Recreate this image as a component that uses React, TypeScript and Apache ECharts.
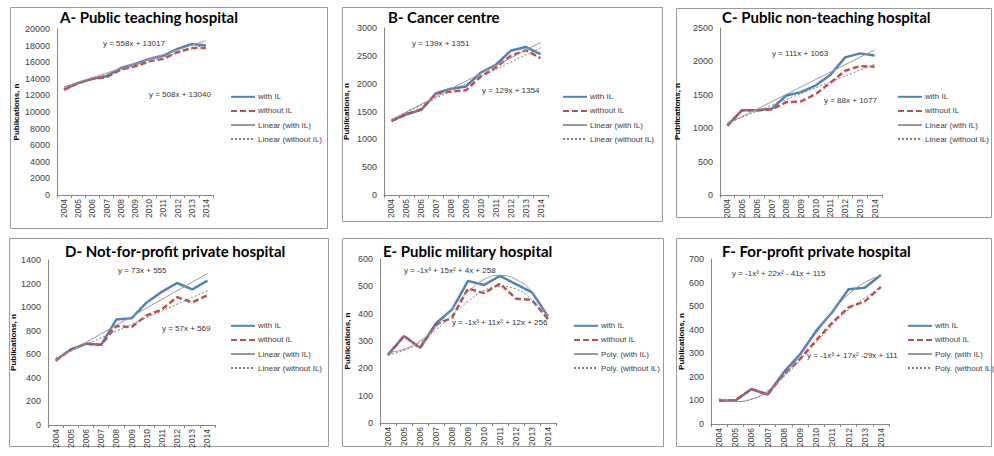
import React, { useEffect, useRef } from "react";
import * as echarts from "echarts";

const years = ["2004", "2005", "2006", "2007", "2008", "2009", "2010", "2011", "2012", "2013", "2014"];

// A - Public teaching hospital
const aWithIL = [12700, 13500, 14000, 14300, 15300, 15800, 16400, 16800, 17600, 18200, 18000];
const aWithoutIL = [12700, 13500, 14000, 14200, 15100, 15500, 16100, 16400, 17200, 17700, 17700];
const aTrendWith = [13017, 18597];
const aTrendWithout = [13040, 18120];

// B - Cancer centre
const bWithIL = [1330, 1450, 1530, 1830, 1910, 1950, 2200, 2340, 2590, 2660, 2530];
const bWithoutIL = [1330, 1450, 1540, 1820, 1860, 1880, 2130, 2290, 2500, 2600, 2460];
const bTrendWith = [1351, 2741];
const bTrendWithout = [1354, 2644];

// C - Public non-teaching hospital
const cWithIL = [1040, 1270, 1270, 1290, 1490, 1540, 1640, 1800, 2060, 2120, 2090];
const cWithoutIL = [1040, 1270, 1270, 1280, 1390, 1400, 1510, 1680, 1860, 1930, 1920];
const cTrendWith = [1063, 2173];
const cTrendWithout = [1077, 1957];

// D - Not-for-profit private hospital
const dWithIL = [550, 640, 690, 680, 895, 905, 1040, 1130, 1205, 1150, 1225];
const dWithoutIL = [545, 640, 690, 680, 840, 830, 930, 980, 1085, 1040, 1100];
const dTrendWith = [555, 1285];
const dTrendWithout = [569, 1139];

// E - Public military hospital
const eWithIL = [250, 318, 275, 365, 415, 520, 505, 538, 508, 478, 390];
const eWithoutIL = [248, 318, 275, 360, 385, 492, 475, 510, 455, 450, 380];
const ePolyWith = [258, 270, 300, 350, 420, 480, 525, 540, 525, 480, 390];
const ePolyWithout = [250, 265, 295, 340, 395, 445, 485, 500, 490, 450, 378];

// F - For-profit private hospital
const fWithIL = [100, 100, 148, 125, 220, 295, 395, 475, 572, 578, 632];
const fWithoutIL = [100, 100, 148, 125, 210, 275, 355, 430, 495, 520, 582];
const fPolyWith = [108, 95, 105, 140, 205, 290, 385, 475, 550, 600, 630];
const fPolyWithout = [105, 95, 105, 140, 200, 270, 345, 420, 485, 535, 580];

const panelTitles = [
  "A- Public teaching hospital",
  "B- Cancer centre",
  "C- Public non-teaching hospital",
  "D- Not-for-profit private hospital",
  "E- Public military hospital",
  "F- For-profit private hospital",
];
const eqWith = [
  "y = 558x + 13017",
  "y = 139x + 1351",
  "y = 111x + 1063",
  "y = 73x + 555",
  "y = -1x³ + 15x² + 4x + 258",
  "y = -1x³ + 22x² - 41x + 115",
];
const eqWithout = [
  "y = 508x + 13040",
  "y = 129x + 1354",
  "y = 88x + 1077",
  "y = 57x + 569",
  "y = -1x³ + 11x² + 12x + 256",
  "y = -1x³ + 17x² -29x + 111",
];
const trendKind = ["Linear", "Linear", "Linear", "Linear", "Poly.", "Poly."];
const yMax = [20000, 3000, 2500, 1400, 600, 700];
const yStep = [2000, 500, 500, 200, 100, 100];

const withSeries = [aWithIL, bWithIL, cWithIL, dWithIL, eWithIL, fWithIL];
const withoutSeries = [aWithoutIL, bWithoutIL, cWithoutIL, dWithoutIL, eWithoutIL, fWithoutIL];
const linearWith = [aTrendWith, bTrendWith, cTrendWith, dTrendWith];
const linearWithout = [aTrendWithout, bTrendWithout, cTrendWithout, dTrendWithout];
const polyWith = [ePolyWith, fPolyWith];
const polyWithout = [ePolyWithout, fPolyWithout];

// layout
const grids = [
  { left: 57, top: 29, width: 156, height: 166 },
  { left: 384, top: 28, width: 164, height: 167 },
  { left: 720, top: 28, width: 162, height: 167 },
  { left: 48, top: 260, width: 167, height: 165 },
  { left: 380, top: 259, width: 176, height: 164 },
  { left: 711, top: 259, width: 178, height: 165 },
];
const boxes = [
  [10, 7, 317, 221],
  [342, 7, 320, 214],
  [676, 8, 315, 209],
  [9, 238, 319, 208],
  [342, 238, 321, 208],
  [676, 238, 315, 208],
];
const titlePos = [
  [60, 9],
  [388, 9],
  [722, 9],
  [65, 243],
  [383, 243],
  [722, 243],
];
const legendPos = [
  [230, 92],
  [562, 92],
  [897, 92],
  [230, 321],
  [573, 321],
  [907, 321],
];
const nameGaps = [37, 34, 39, 28, 29, 26];
const eqPos = [
  [[103, 43], [149, 94]],
  [[412, 43], [482, 90]],
  [[772, 53], [824, 100]],
  [[118, 270], [162, 328]],
  [[404, 270], [452, 322]],
  [[732, 273], [807, 355]],
];

const FONT = "'Liberation Sans', Arial, sans-serif";
const BLUE = "#4F81BD";
const RED = "#C0504D";

export default function App() {
  const ref = useRef<HTMLDivElement>(null);
  useEffect(() => {
    document.body.style.margin = "0";
    if (!ref.current) return;
    const chart = echarts.init(ref.current, undefined, { renderer: "svg" });
    const last = years.length - 1;
    const series: any[] = [];
    const legends: any[] = [];
    const xAxes: any[] = [];
    const yAxes: any[] = [];
    const titles: any[] = [];
    const graphics: any[] = [];

    for (let i = 0; i < 6; i++) {
      const kind = trendKind[i];
      const isLinear = kind === "Linear";
      const tw = isLinear
        ? years.map((_, k) => (k === 0 ? linearWith[i][0] : k === last ? linearWith[i][1] : null))
        : polyWith[i - 4];
      const two = isLinear
        ? years.map((_, k) => (k === 0 ? linearWithout[i][0] : k === last ? linearWithout[i][1] : null))
        : polyWithout[i - 4];
      const nWith = `${kind} (with IL)`;
      const nWithout = `${kind} (without IL)`;
      series.push(
        {
          type: "line",
          name: "with IL",
          xAxisIndex: i,
          yAxisIndex: i,
          data: withSeries[i],
          symbol: "none",
          lineStyle: { color: BLUE, width: 2.5 },
          itemStyle: { color: BLUE },
          z: 2,
        },
        {
          type: "line",
          name: "without IL",
          xAxisIndex: i,
          yAxisIndex: i,
          data: withoutSeries[i],
          symbol: "none",
          lineStyle: { color: RED, width: 2.5, type: [6, 3] },
          itemStyle: { color: RED },
          z: 3,
        },
        {
          type: "line",
          name: nWith,
          xAxisIndex: i,
          yAxisIndex: i,
          data: tw,
          connectNulls: true,
          smooth: isLinear ? false : 0.5,
          symbol: "none",
          lineStyle: { color: "#999999", width: 1 },
          itemStyle: { color: "#999999" },
          z: 4,
        },
        {
          type: "line",
          name: nWithout,
          xAxisIndex: i,
          yAxisIndex: i,
          data: two,
          connectNulls: true,
          smooth: isLinear ? false : 0.5,
          symbol: "none",
          lineStyle: { color: "#7F7F7F", width: 1, type: [2, 2] },
          itemStyle: { color: "#7F7F7F" },
          z: 4,
        }
      );
      legends.push({
        data: ["with IL", "without IL", nWith, nWithout],
        orient: "vertical",
        left: legendPos[i][0],
        top: legendPos[i][1],
        itemWidth: 24,
        itemHeight: 12,
        itemGap: 4.5,
        padding: 0,
        selectedMode: false,
        itemStyle: { opacity: 0, borderWidth: 0 },
        textStyle: { fontSize: 8, fontFamily: FONT, color: "#404040", padding: [0, 0, 0, -2] },
      });
      xAxes.push({
        type: "category",
        gridIndex: i,
        data: years,
        boundaryGap: true,
        axisLine: { lineStyle: { color: "#868686", width: 1 } },
        axisTick: { show: true, length: 3, lineStyle: { color: "#868686" } },
        axisLabel: { rotate: 90, interval: 0, fontSize: 8.5, fontFamily: FONT, color: "#404040", margin: 4 },
      });
      yAxes.push({
        type: "value",
        gridIndex: i,
        min: 0,
        max: yMax[i],
        interval: yStep[i],
        name: "Publications, n",
        nameLocation: "middle",
        nameGap: nameGaps[i],
        nameTextStyle: { fontSize: 8, fontWeight: "bold", fontFamily: FONT, color: "#000" },
        axisLine: { show: true, lineStyle: { color: "#868686", width: 1 } },
        axisTick: { show: false },
        splitLine: { show: false },
        axisLabel: {
          fontSize: 9,
          fontFamily: FONT,
          color: "#404040",
          margin: 7,
          formatter: (v: number) => String(v),
        },
      });
      titles.push({
        text: panelTitles[i],
        left: titlePos[i][0],
        top: titlePos[i][1],
        padding: 0,
        textStyle: { fontSize: 15, fontWeight: "bold", fontFamily: "Lato, 'Liberation Sans', sans-serif", color: "#000" },
      });
      const [bx, by, bw, bh] = boxes[i];
      graphics.push({
        type: "rect",
        shape: { x: bx + 0.5, y: by + 0.5, width: bw, height: bh },
        style: { fill: "none", stroke: "#9a9a9a", lineWidth: 1 },
        silent: true,
        z: 0,
      });
      graphics.push({
        type: "text",
        x: eqPos[i][0][0],
        y: eqPos[i][0][1],
        style: { text: eqWith[i], fontSize: 8, fontFamily: FONT, fill: "#333", verticalAlign: "middle" },
        silent: true,
      });
      graphics.push({
        type: "text",
        x: eqPos[i][1][0],
        y: eqPos[i][1][1],
        style: { text: eqWithout[i], fontSize: 8, fontFamily: FONT, fill: "#333", verticalAlign: "middle" },
        silent: true,
      });
    }

    chart.setOption({
      animation: false,
      backgroundColor: "#ffffff",
      title: titles,
      legend: legends,
      grid: grids,
      xAxis: xAxes,
      yAxis: yAxes,
      series,
      graphic: graphics,
    });
    return () => chart.dispose();
  }, []);
  return <div ref={ref} style={{ width: 994, height: 456 }} />;
}
